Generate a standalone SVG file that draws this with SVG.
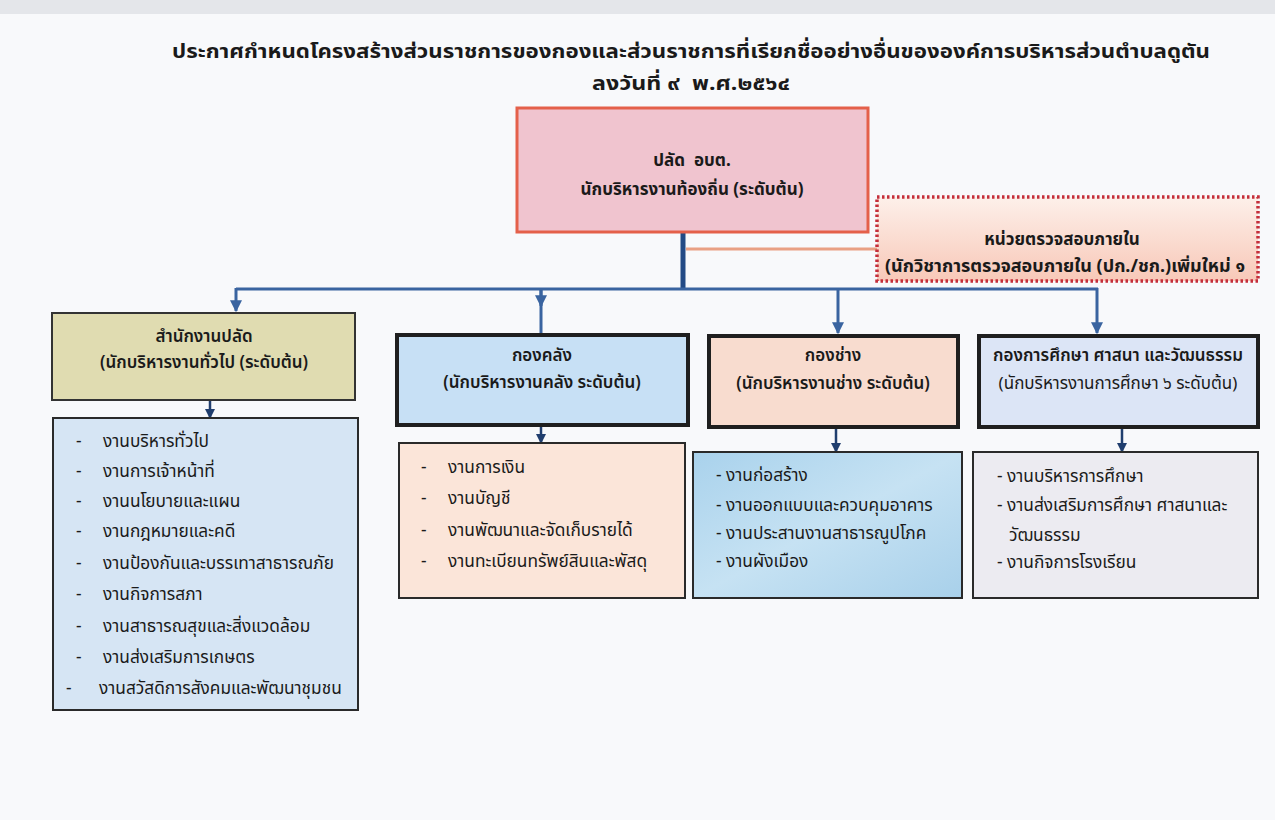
<svg xmlns="http://www.w3.org/2000/svg" width="1275" height="820" viewBox="0 0 1275 820">
<defs>
<style>
text{font-family:"Noto Sans","Noto Sans Thai","DejaVu Sans",sans-serif;fill:#1a1a1a;white-space:pre}
.title{font-size:20px;font-weight:bold;text-anchor:middle}
.main{font-size:17px;font-weight:bold;text-anchor:middle}
.head{font-size:17px;text-anchor:middle;font-weight:600}
.aud{font-size:17px;text-anchor:middle;font-weight:bold}
.item{font-size:17.3px}
.conn{stroke:#3a64a0;stroke-width:3;fill:none}
.dconn{stroke:#203e6e;stroke-width:2.5;fill:none}
.unit{stroke:#1f1f1f;stroke-width:4}
.list{stroke:#2a2a2a;stroke-width:2}
</style>
<marker id="arr" viewBox="0 0 10 10" refX="9" refY="5" markerWidth="4" markerHeight="4" orient="auto">
<path d="M0,0 L10,5 L0,10 z" fill="#3a64a0"/>
</marker>
<marker id="darr" viewBox="0 0 10 10" refX="9" refY="5" markerWidth="4" markerHeight="4" orient="auto">
<path d="M0,0 L10,5 L0,10 z" fill="#203e6e"/>
</marker>
<linearGradient id="audit" x1="0" y1="0" x2="0" y2="1">
<stop offset="0" stop-color="#fdf0ea"/>
<stop offset="1" stop-color="#f8c8b8"/>
</linearGradient>
<linearGradient id="water" x1="0" y1="0" x2="1" y2="1">
<stop offset="0" stop-color="#a9d2ec"/>
<stop offset="0.5" stop-color="#c6e2f3"/>
<stop offset="1" stop-color="#a8d0ea"/>
</linearGradient>
</defs>
<rect x="0" y="0" width="1275" height="820" fill="#f8f9fb"/>
<rect x="0" y="0" width="1275" height="14" fill="#e4e6ea"/>

<g id="title">
<text class="title" x="691" y="58" textLength="1038" lengthAdjust="spacingAndGlyphs">ประกาศกำหนดโครงสร้างส่วนราชการของกองและส่วนราชการที่เรียกชื่ออย่างอื่นขององค์การบริหารส่วนตำบลดูตัน</text>
<text class="title" x="691" y="90" xml:space="preserve" textLength="198" lengthAdjust="spacingAndGlyphs">ลงวันที่ ๙  พ.ศ.๒๕๖๔</text>
</g>

<g id="connectors">
<line x1="683" y1="232" x2="683" y2="289" stroke="#234a85" stroke-width="5"/>
<line x1="686" y1="249" x2="877" y2="249" stroke="#e9a084" stroke-width="3"/>
<path class="conn" d="M236,289 H1098"/>
<line class="conn" x1="236" y1="288" x2="236" y2="311" marker-end="url(#arr)"/>
<line class="conn" x1="541" y1="288" x2="541" y2="334"/>
<line class="conn" x1="541" y1="288" x2="541" y2="306" marker-end="url(#arr)"/>
<line class="conn" x1="838" y1="288" x2="838" y2="333" marker-end="url(#arr)"/>
<line class="conn" x1="1097" y1="288" x2="1097" y2="333" marker-end="url(#arr)"/>
<line class="dconn" x1="210" y1="400" x2="210" y2="418" marker-end="url(#darr)"/>
<line class="dconn" x1="541" y1="425" x2="541" y2="443" marker-end="url(#darr)"/>
<line class="dconn" x1="836" y1="427" x2="836" y2="452" marker-end="url(#darr)"/>
<line class="dconn" x1="1122" y1="427" x2="1122" y2="452" marker-end="url(#darr)"/>
</g>

<g id="chief">
<rect x="517" y="108" width="351" height="124" fill="#f0c4cf" stroke="#e4604a" stroke-width="3"/>
<text class="main" x="692" y="166" xml:space="preserve">ปลัด  อบต.</text>
<text class="main" x="692" y="195">นักบริหารงานท้องถิ่น (ระดับต้น)</text>
</g>

<g id="audit-unit">
<rect x="877" y="197" width="381" height="84" fill="url(#audit)" stroke="#c42e3a" stroke-width="3.5" stroke-dasharray="2.5 2.5"/>
<text class="aud" x="1062" y="245">หน่วยตรวจสอบภายใน</text>
<text class="aud" x="1065" y="272" textLength="360" lengthAdjust="spacingAndGlyphs">(นักวิชาการตรวจสอบภายใน (ปก./ชก.)เพิ่มใหม่ ๑</text>
</g>

<g id="office">
<rect x="52" y="313" width="303" height="87" fill="#e0dcb1" stroke="#333" stroke-width="2"/>
<text class="head" x="204" y="342">สำนักงานปลัด</text>
<text class="head" x="204" y="368">(นักบริหารงานทั่วไป (ระดับต้น)</text>
</g>

<g id="finance">
<rect x="397" y="335" width="291" height="90" fill="#c7e0f5" class="unit"/>
<text class="head" x="542" y="361">กองคลัง</text>
<text class="head" x="542" y="388">(นักบริหารงานคลัง ระดับต้น)</text>
</g>

<g id="works">
<rect x="709" y="336" width="249" height="91" fill="#f8dccf" class="unit"/>
<text class="head" x="833" y="361">กองช่าง</text>
<text class="head" x="833" y="389">(นักบริหารงานช่าง ระดับต้น)</text>
</g>

<g id="education">
<rect x="979" y="336" width="279" height="91" fill="#dce5f6" class="unit"/>
<text class="head" x="1118" y="361">กองการศึกษา ศาสนา และวัฒนธรรม</text>
<text class="head" x="1118" y="389" style="font-weight:normal">(นักบริหารงานการศึกษา ๖ ระดับต้น)</text>
</g>

<g id="office-tasks">
<rect x="53" y="418" width="305" height="292" fill="#d6e5f4" class="list"/>
<text class="item" x="76" y="447">-</text><text class="item" x="103" y="447">งานบริหารทั่วไป</text>
<text class="item" x="76" y="477">-</text><text class="item" x="103" y="477">งานการเจ้าหน้าที่</text>
<text class="item" x="76" y="507">-</text><text class="item" x="103" y="507">งานนโยบายและแผน</text>
<text class="item" x="76" y="537">-</text><text class="item" x="103" y="537">งานกฎหมายและคดี</text>
<text class="item" x="76" y="569">-</text><text class="item" x="103" y="569">งานป้องกันและบรรเทาสาธารณภัย</text>
<text class="item" x="76" y="600">-</text><text class="item" x="103" y="600">งานกิจการสภา</text>
<text class="item" x="76" y="632">-</text><text class="item" x="103" y="632">งานสาธารณสุขและสิ่งแวดล้อม</text>
<text class="item" x="76" y="663">-</text><text class="item" x="103" y="663">งานส่งเสริมการเกษตร</text>
<text class="item" x="66" y="694">-</text><text class="item" x="99" y="694">งานสวัสดิการสังคมและพัฒนาชุมชน</text>
</g>

<g id="finance-tasks">
<rect x="399" y="443" width="286" height="155" fill="#fbe5d9" class="list"/>
<text class="item" x="421" y="473">-</text><text class="item" x="448" y="473">งานการเงิน</text>
<text class="item" x="421" y="504">-</text><text class="item" x="448" y="504">งานบัญชี</text>
<text class="item" x="421" y="536">-</text><text class="item" x="448" y="536">งานพัฒนาและจัดเก็บรายได้</text>
<text class="item" x="421" y="567">-</text><text class="item" x="448" y="567">งานทะเบียนทรัพย์สินและพัสดุ</text>
</g>

<g id="works-tasks">
<rect x="693" y="452" width="269" height="146" fill="url(#water)" class="list"/>
<text class="item" x="716" y="481">- งานก่อสร้าง</text>
<text class="item" x="716" y="511">- งานออกแบบและควบคุมอาคาร</text>
<text class="item" x="716" y="539">- งานประสานงานสาธารณูปโภค</text>
<text class="item" x="716" y="567">- งานผังเมือง</text>
</g>

<g id="education-tasks">
<rect x="973" y="452" width="285" height="146" fill="#ecebf1" class="list"/>
<text class="item" x="997" y="482">- งานบริหารการศึกษา</text>
<text class="item" x="997" y="511">- งานส่งเสริมการศึกษา ศาสนาและ</text>
<text class="item" x="1009" y="541">วัฒนธรรม</text>
<text class="item" x="997" y="568">- งานกิจการโรงเรียน</text>
</g>
</svg>
